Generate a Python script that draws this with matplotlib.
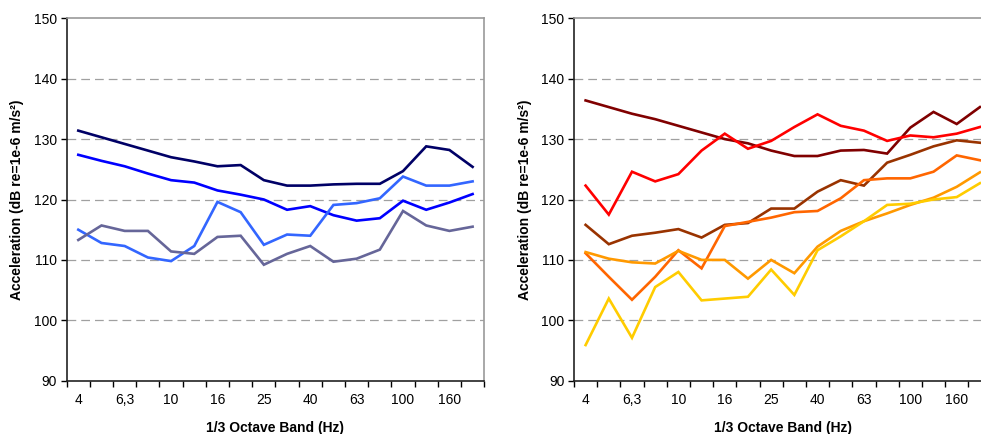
import matplotlib
matplotlib.use("Agg")
import matplotlib.pyplot as plt
import numpy as np

bands = ["4", "5", "6,3", "8", "10", "12,5", "16", "20", "25", "31,5",
         "40", "50", "63", "80", "100", "125", "160", "200"]
tick_labels = ["4", "", "6,3", "", "10", "", "16", "", "25", "",
               "40", "", "63", "", "100", "", "160", ""]

# Left panel series
left_navy = [131.4, 130.3, 129.2, 128.1, 127.0, 126.3, 125.5, 125.7, 123.2, 122.3,
             122.3, 122.5, 122.6, 122.6, 124.7, 128.8, 128.2, 125.4]
left_blue = [127.4, 126.4, 125.5, 124.3, 123.2, 122.8, 121.5, 120.8, 120.0, 118.3,
             118.9, 117.4, 116.5, 116.9, 119.8, 118.3, 119.5, 120.9]
left_lightblue = [115.0, 112.8, 112.3, 110.4, 109.8, 112.3, 119.6, 117.9, 112.5, 114.2,
                  114.0, 119.1, 119.4, 120.2, 123.8, 122.3, 122.3, 123.0]
left_gray = [113.3, 115.7, 114.8, 114.8, 111.4, 111.0, 113.8, 114.0, 109.2, 111.0,
             112.3, 109.7, 110.2, 111.7, 118.1, 115.7, 114.8, 115.5]

# Right panel series
right_maroon = [136.4, 135.3, 134.2, 133.3, 132.2, 131.1, 130.0, 129.3, 128.1, 127.2,
                127.2, 128.1, 128.2, 127.6, 131.9, 134.5, 132.5, 135.3]
right_red = [122.3, 117.5, 124.6, 123.0, 124.2, 128.1, 130.9, 128.4, 129.7, 132.0,
             134.1, 132.2, 131.4, 129.7, 130.6, 130.3, 130.9, 132.0]
right_brown = [115.8, 112.6, 114.0, 114.5, 115.1, 113.7, 115.8, 116.1, 118.5, 118.5,
               121.3, 123.2, 122.3, 126.1, 127.4, 128.8, 129.8, 129.4]
right_darkorange = [111.1, 107.2, 103.4, 107.2, 111.6, 108.6, 115.6, 116.3, 117.0, 117.9,
                    118.1, 120.2, 123.2, 123.5, 123.5, 124.6, 127.3, 126.5]
right_orange = [111.3, 110.2, 109.6, 109.4, 111.5, 110.0, 110.0, 106.9, 110.0, 107.8,
                112.2, 114.8, 116.4, 117.7, 119.1, 120.3, 122.1, 124.5]
right_yellow = [95.9, 103.6, 97.1, 105.5, 108.0, 103.3, 103.6, 103.9, 108.4, 104.2,
                111.6, 113.9, 116.4, 119.1, 119.3, 120.0, 120.4, 122.7]

left_series = [(left_navy, "#000066"), (left_blue, "#0000FF"),
               (left_lightblue, "#3366FF"), (left_gray, "#666699")]
right_series = [(right_maroon, "#800000"), (right_red, "#FF0000"),
                (right_brown, "#993300"), (right_darkorange, "#FF6600"),
                (right_orange, "#FF9900"), (right_yellow, "#FFCC00")]

plt.rcParams["font.family"] = ["Liberation Sans", "DejaVu Sans"]

fig = plt.figure(figsize=(9.81, 4.34), dpi=100)
W, H = 981.0, 434.0
ax_w = 417.5 / W
ax_b = (H - 380.7) / H
ax_h = 362.4 / H
ax1 = fig.add_axes([66.7 / W, ax_b, ax_w, ax_h])
ax2 = fig.add_axes([574.0 / W, ax_b, ax_w, ax_h])

x = np.arange(len(bands))
ylabel = "Acceleration (dB re=1e-6 m/s²)"

for ax, series, lx in [(ax1, left_series, -0.102), (ax2, right_series, -0.10)]:
    for vals, col in series:
        ax.plot(x, vals, color=col, lw=1.9, solid_joinstyle="miter", clip_on=True)
    ax.set_xlim(-0.5, len(bands) - 0.5)
    ax.set_ylim(90, 150)
    ax.set_yticks(np.arange(90, 151, 10))
    ax.set_xticks(np.arange(-0.5, len(bands), 1.0))
    ax.set_xticklabels([])
    ax.set_xticks(x, minor=True)
    ax.set_xticklabels(tick_labels, minor=True)
    ax.tick_params(axis="x", which="major", direction="out", length=4, width=1, color="#000000")
    ax.tick_params(axis="x", which="minor", length=0, pad=9, labelsize=10)
    ax.tick_params(axis="y", direction="out", length=4, width=1, labelsize=10, pad=3)
    for gy in [100, 110, 120, 130, 140]:
        ax.axhline(gy, color="#a0a0a0", lw=0.9, ls=(0, (7, 4)), zorder=0)
    ax.spines["left"].set_color("#222222")
    ax.spines["bottom"].set_color("#222222")
    ax.spines["top"].set_color("#999999")
    ax.spines["right"].set_color("#999999")
    for s in ax.spines.values():
        s.set_linewidth(1.2)
    ax.set_ylabel(ylabel, fontsize=10, fontweight="bold")
    ax.yaxis.set_label_coords(lx, 0.5)
    ax.set_xlabel("1/3 Octave Band (Hz)", fontsize=10, fontweight="bold")
    ax.xaxis.set_label_coords(0.5, -0.112)

fig.savefig("out.png", dpi=100, facecolor="white")
